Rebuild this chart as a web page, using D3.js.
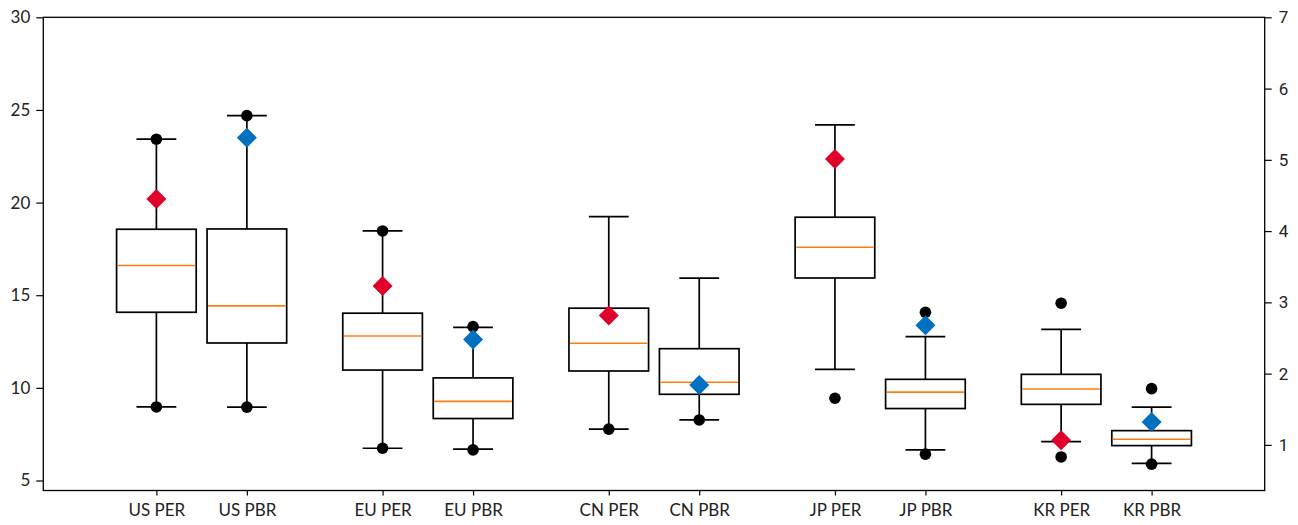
<!DOCTYPE html>
<html>
<head>
<meta charset="utf-8">
<script src="https://cdn.jsdelivr.net/npm/d3@7"></script>
<style>
  html, body { margin: 0; padding: 0; background: #fff; }
  svg { display: block; }
</style>
</head>
<body>
<svg id="chart" width="1298" height="525"></svg>
<script>
// ---------- data ----------
const categories = ["US PER", "US PBR", "EU PER", "EU PBR", "CN PER", "CN PBR", "JP PER", "JP PBR", "KR PER", "KR PBR"];
const positions  = [1, 2, 3.5, 4.5, 6, 7, 8.5, 9.5, 11, 12];
const axisSide   = ["L", "R", "L", "R", "L", "R", "L", "R", "L", "R"]; // PER -> left axis, PBR -> right axis
const whiskerLow  = [8.97, 1.53, 6.74, 0.94, 7.77, 1.35, 11.00, 0.93, 7.10, 0.74];
const q1          = [14.08, 2.43, 10.96, 1.37, 10.91, 1.71, 15.93, 1.51, 9.11, 0.99];
const median      = [16.60, 2.95, 12.80, 1.61, 12.41, 1.88, 17.59, 1.74, 9.94, 1.08];
const q3          = [18.56, 4.03, 14.03, 1.94, 14.30, 2.35, 19.21, 1.92, 10.73, 1.20];
const whiskerHigh = [23.42, 5.62, 18.47, 2.65, 19.24, 3.34, 24.19, 2.52, 13.16, 1.53];
const current     = [20.19, 5.31, 15.50, 2.48, 13.90, 1.84, 22.35, 2.68, 7.17, 1.32];
const dots        = [[23.42, 8.97], [5.62, 1.53], [18.47, 6.74], [2.66, 0.93], [7.77], [1.35], [9.44], [2.86, 0.87], [14.57, 6.27], [1.79, 0.73]];
const leftTicks  = [5, 10, 15, 20, 25, 30];
const rightTicks = [1, 2, 3, 4, 5, 6, 7];

// ---------- layout ----------
const svg = d3.select("#chart");
const plot = { left: 43.3, right: 1264.7, top: 17.3, bottom: 490.5 };

const x  = d3.scaleLinear().domain([-0.25, 13.25]).range([plot.left, plot.right]);
const yL = d3.scaleLinear().domain([4.46, 30]).range([plot.bottom, plot.top]);
const yR = d3.scaleLinear().domain([0.36, 7]).range([plot.bottom, plot.top]);

const boxW = 0.88, capW = 0.44;
const colPER = "#e0002b", colPBR = "#0070c0", colMed = "#ff7f0e";

const items = categories.map((c, i) => ({
  cat: c, pos: positions[i], y: axisSide[i] === "L" ? yL : yR, kind: axisSide[i],
  lo: whiskerLow[i], q1: q1[i], med: median[i], q3: q3[i], hi: whiskerHigh[i],
  cur: current[i], dots: dots[i]
}));

const g = svg.append("g");
const sw = 1.7;

// whiskers, caps, boxes, medians
items.forEach(d => {
  const cx = x(d.pos);
  const hw = (x(capW) - x(0)) / 2;
  g.append("line").attr("x1", cx).attr("x2", cx).attr("y1", d.y(d.q1)).attr("y2", d.y(d.lo))
    .attr("stroke", "#000").attr("stroke-width", sw);
  g.append("line").attr("x1", cx).attr("x2", cx).attr("y1", d.y(d.q3)).attr("y2", d.y(d.hi))
    .attr("stroke", "#000").attr("stroke-width", sw);
  g.append("line").attr("x1", cx - hw).attr("x2", cx + hw).attr("y1", d.y(d.lo)).attr("y2", d.y(d.lo))
    .attr("stroke", "#000").attr("stroke-width", sw);
  g.append("line").attr("x1", cx - hw).attr("x2", cx + hw).attr("y1", d.y(d.hi)).attr("y2", d.y(d.hi))
    .attr("stroke", "#000").attr("stroke-width", sw);
  const bw = x(boxW) - x(0);
  g.append("rect").attr("x", cx - bw / 2).attr("width", bw)
    .attr("y", d.y(d.q3)).attr("height", d.y(d.q1) - d.y(d.q3))
    .attr("fill", "none").attr("stroke", "#000").attr("stroke-width", sw);
  g.append("line").attr("x1", cx - bw / 2 + 1).attr("x2", cx + bw / 2 - 1).attr("y1", d.y(d.med)).attr("y2", d.y(d.med))
    .attr("stroke", colMed).attr("stroke-width", 1.6);
});

// dots
items.forEach(d => {
  d.dots.forEach(v => {
    g.append("circle").attr("cx", x(d.pos)).attr("cy", d.y(v)).attr("r", 5.8).attr("fill", "#000");
  });
});

// diamonds
items.forEach(d => {
  g.append("path")
    .attr("d", d3.symbol().type(d3.symbolSquare).size(200)())
    .attr("transform", `translate(${x(d.pos)},${d.y(d.cur)}) rotate(45)`)
    .attr("fill", d.kind === "L" ? colPER : colPBR);
});

// frame
svg.append("rect").attr("x", plot.left).attr("y", plot.top)
  .attr("width", plot.right - plot.left).attr("height", plot.bottom - plot.top)
  .attr("fill", "none").attr("stroke", "#000").attr("stroke-width", 1.3);

// axes
const axL = svg.append("g").attr("transform", `translate(${plot.left},0)`)
  .call(d3.axisLeft(yL).tickValues(leftTicks).tickFormat(d3.format("d")).tickSize(7).tickPadding(6));
const axR = svg.append("g").attr("transform", `translate(${plot.right},0)`)
  .call(d3.axisRight(yR).tickValues(rightTicks).tickFormat(d3.format("d")).tickSize(7).tickPadding(7));
const axB = svg.append("g").attr("transform", `translate(0,${plot.bottom})`)
  .call(d3.axisBottom(x).tickValues(positions).tickFormat((v, i) => categories[i]).tickSize(5).tickPadding(8));

[axL, axR, axB].forEach(a => {
  a.select(".domain").remove();
  a.selectAll(".tick line").attr("stroke", "#000").attr("stroke-width", 1.2);
  a.selectAll(".tick text").attr("fill", "#222");
});
axL.selectAll(".tick text").style("font-family", "Lato, sans-serif").style("font-size", "17px");
axB.selectAll(".tick text").style("font-family", "Lato, sans-serif").style("font-size", "17px");
axR.selectAll(".tick text").style("font-family", "Roboto, sans-serif").style("font-size", "17px");
</script>
</body>
</html>
